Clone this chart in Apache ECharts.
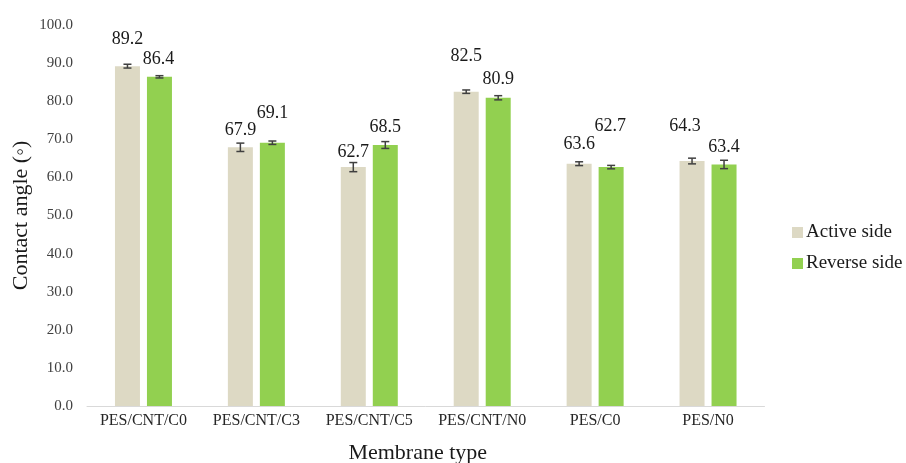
<!DOCTYPE html>
<html>
<head>
<meta charset="utf-8">
<script src="https://cdn.jsdelivr.net/npm/echarts@6/dist/echarts.min.js"></script>
<style>
  html, body { margin: 0; padding: 0; background: #fff; }
  #chart { width: 906px; height: 463px; }
</style>
</head>
<body>
<div id="chart"></div>
<script>
const categories = ["PES/CNT/C0", "PES/CNT/C3", "PES/CNT/C5", "PES/CNT/N0", "PES/C0", "PES/N0"];
const activeSide = [89.2, 67.9, 62.7, 82.5, 63.6, 64.3];
const reverseSide = [86.4, 69.1, 68.5, 80.9, 62.7, 63.4];
const activeErr = [0.5, 1.1, 1.2, 0.45, 0.5, 0.75];
const reverseErr = [0.3, 0.45, 0.9, 0.55, 0.45, 1.1];
const yTicks = [0, 10, 20, 30, 40, 50, 60, 70, 80, 90, 100];

// label placement like the excel original (distance above bar, x shift)
const activeLabelDist = [18, 8, 6, 26, 10, 26];
const activeLabelDx = [0, 0, 0, 0, 0, -7];
const reverseLabelDist = [9, 20, 9, 10, 32, 8];
const reverseLabelDx = [-1, 0, 0, 0, -1, 0];

const font = "'Liberation Serif', 'Times New Roman', serif";
const chart = echarts.init(document.getElementById("chart"));

function barData(values, dist, dx) {
  return values.map((v, i) => ({
    value: v,
    label: { distance: dist[i], offset: [dx[i], 0] }
  }));
}

function errData(values, errs) {
  return values.map((v, i) => [i, v, errs[i]]);
}

function errRender(shift) {
  return function (params, api) {
    const i = api.value(0);
    const v = api.value(1);
    const e = api.value(2);
    const hi = api.coord([i, v + e]);
    const lo = api.coord([i, v - e]);
    const x = hi[0] + shift;
    const style = { stroke: "#404040", lineWidth: 1.5 };
    return {
      type: "group",
      children: [
        { type: "line", shape: { x1: x, y1: hi[1], x2: x, y2: lo[1] }, style: style },
        { type: "line", shape: { x1: x - 4, y1: hi[1], x2: x + 4, y2: hi[1] }, style: style },
        { type: "line", shape: { x1: x - 4, y1: lo[1], x2: x + 4, y2: lo[1] }, style: style }
      ]
    };
  };
}

const labelStyle = {
  show: true,
  position: "top",
  fontFamily: font,
  fontSize: 18,
  lineHeight: 18,
  color: "#1a1a1a",
  formatter: p => p.value.toFixed(1)
};

chart.setOption({
  animation: false,
  textStyle: { fontFamily: font },
  grid: { left: 87, right: 141.5, top: 25, bottom: 57, outerBoundsMode: "none", containLabel: false },
  legend: {
    orient: "vertical",
    left: 787,
    top: 218,
    itemWidth: 11,
    itemHeight: 11,
    itemGap: 12,
    icon: "rect",
    textStyle: { fontFamily: font, fontSize: 19, color: "#1a1a1a", padding: [0, 0, 0, -2] },
    data: ["Active side", "Reverse side"]
  },
  xAxis: {
    type: "category",
    data: categories,
    name: "Membrane type",
    nameLocation: "middle",
    nameGap: 36,
    nameTextStyle: { fontFamily: font, fontSize: 22, color: "#1a1a1a", padding: [0, 16, 0, 0] },
    axisTick: { show: false },
    axisLine: { lineStyle: { color: "#d9d9d9", width: 1 } },
    axisLabel: { interval: 0, fontFamily: font, fontSize: 16, color: "#262626", margin: 7 }
  },
  yAxis: {
    type: "value",
    min: yTicks[0],
    max: yTicks[yTicks.length - 1],
    interval: 10,
    name: "Contact angle (◦)",
    nameLocation: "middle",
    nameMoveOverlap: false,
    nameGap: 55,
    nameTextStyle: { fontFamily: font, fontSize: 22, color: "#1a1a1a" },
    axisLine: { show: false },
    axisTick: { show: false },
    splitLine: { show: false },
    axisLabel: { fontFamily: font, fontSize: 15, color: "#404040", margin: 14, formatter: v => v.toFixed(1) }
  },
  series: [
    {
      name: "Active side",
      type: "bar",
      barWidth: 25,
      barGap: "28%",
      itemStyle: { color: "#DDD9C4" },
      label: labelStyle,
      data: barData(activeSide, activeLabelDist, activeLabelDx)
    },
    {
      name: "Reverse side",
      type: "bar",
      barWidth: 25,
      barGap: "28%",
      itemStyle: { color: "#92D050" },
      label: labelStyle,
      data: barData(reverseSide, reverseLabelDist, reverseLabelDx)
    },
    {
      type: "custom",
      renderItem: errRender(-16),
      data: errData(activeSide, activeErr),
      z: 10,
      silent: true
    },
    {
      type: "custom",
      renderItem: errRender(16),
      data: errData(reverseSide, reverseErr),
      z: 10,
      silent: true
    }
  ]
});
</script>
</body>
</html>
